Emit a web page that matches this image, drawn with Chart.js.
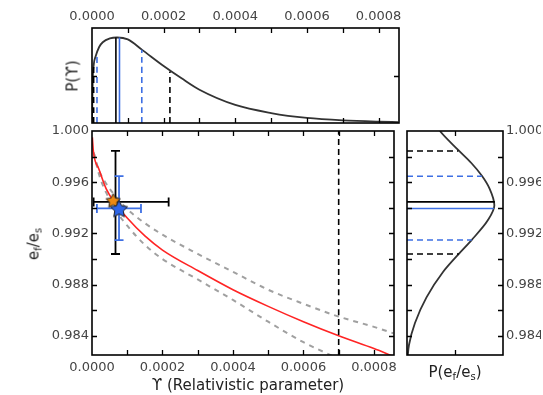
<!DOCTYPE html>
<html>
<head>
<meta charset="utf-8">
<script src="https://cdn.jsdelivr.net/npm/chart.js@4.4.1/dist/chart.umd.min.js"></script>
<style>
  body { margin: 0; background: #fff; width: 543px; height: 395px; position: relative; overflow: hidden; font-family: "DejaVu Sans", sans-serif; }
  canvas { position: absolute; }
  .lbl { position: absolute; font-size: 15px; color: #222; white-space: nowrap; line-height: 1; transform: translate(-50%, -50%); }
  .rot { transform: translate(-50%, -50%) rotate(-90deg); }
  .lbl sub { font-size: 10px; vertical-align: -3px; }
</style>
</head>
<body>
<canvas id="topChart" width="543" height="126" style="left:0;top:0"></canvas>
<canvas id="mainChart" width="403" height="277" style="left:0;top:118px"></canvas>
<canvas id="sideChart" width="138" height="277" style="left:403px;top:118px"></canvas>

<div class="lbl rot" style="left:73px;top:76px">P(ϒ)</div>
<div class="lbl rot" style="left:35px;top:244px">e<sub>f</sub>/e<sub>s</sub></div>
<div class="lbl" style="left:248px;top:385px">ϒ (Relativistic parameter)</div>
<div class="lbl" style="left:455px;top:373px">P(e<sub>f</sub>/e<sub>s</sub>)</div>

<script>
// axis ranges and ticks
const upsMax = 0.000857;
const ratioMin = 0.9825, ratioMax = 1.0;
const xTicks = [0, 0.0001, 0.0002, 0.0003, 0.0004, 0.0005, 0.0006, 0.0007, 0.0008];
const xLabelled = [0, 0.0002, 0.0004, 0.0006, 0.0008];
const yTicks = [0.984, 0.986, 0.988, 0.990, 0.992, 0.994, 0.996, 0.998, 1.000];
const yLabelled = [0.984, 0.988, 0.992, 0.996, 1.000];
const pTicks = [0, 0.5, 1];

// main panel: relation e_f/e_s vs upsilon, with band
const upsGrid  = [0.000001, 0.000004, 0.00002, 0.00004, 0.00007, 0.0001, 0.00015, 0.0002, 0.0003, 0.0004, 0.0005, 0.0006, 0.0007, 0.0008, 0.000855];
const ratioFit = [0.9995, 0.9984, 0.9970, 0.9955, 0.9942, 0.9932, 0.9918, 0.9907, 0.9891, 0.9876, 0.9863, 0.9851, 0.9840, 0.9830, 0.9824];
const upsBand    = [0.000005, 0.00002, 0.00004, 0.00007, 0.0001, 0.00015, 0.0002, 0.0003, 0.0004, 0.0005, 0.0006, 0.0007, 0.0008, 0.000855];
const ratioUpper = [0.9983, 0.9969, 0.9959, 0.9948, 0.9939, 0.9928, 0.9919, 0.9904, 0.9890, 0.9876, 0.9865, 0.9855, 0.9847, 0.9842];
const ratioLower = [0.9983, 0.9966, 0.9952, 0.9937, 0.9926, 0.9911, 0.9900, 0.9884, 0.9868, 0.9851, 0.9835, 0.9822];
const upsLimit = 0.0007;

// lo, mid, hi of the two estimates
const upsBlack   = [0.0000046, 0.0000667, 0.0002175];
const upsBlue    = [0.0000139, 0.0000767, 0.000139];
const ratioBlack = [0.99039, 0.99446, 0.99844];
const ratioBlue  = [0.99148, 0.99395, 0.99647];
const orangePt   = [0.000060, 0.99460];

// top panel: P(upsilon)
const upsCurve = [0, 0.000002, 0.000005, 0.00001, 0.00002, 0.00003, 0.00005, 0.00007, 0.0001, 0.00014, 0.0002, 0.00025, 0.0003, 0.0004, 0.0005, 0.0006, 0.0007, 0.0008, 0.000855];
const pUps     = [0, 0.45, 0.62, 0.70, 0.80, 0.85, 0.89, 0.90, 0.88, 0.77, 0.60, 0.47, 0.35, 0.19, 0.105, 0.053, 0.027, 0.014, 0.010];
const pUpsBlack = [0.61, 0.90, 0.543];
const pUpsBlue  = [0.737, 0.90, 0.772];

// side panel: P(e_f/e_s)
const ratioCurve = [0.9822, 0.9833, 0.9850, 0.9870, 0.9890, 0.9904, 0.9915, 0.9930, 0.9942, 0.9955, 0.9965, 0.9975, 0.9985, 1.0000, 1.0005];
const pRatio     = [0.005, 0.021, 0.083, 0.203, 0.377, 0.54, 0.675, 0.84, 0.91, 0.86, 0.78, 0.67, 0.535, 0.343, 0.30];
const pRatioBlack = [0.54, 0.915, 0.535];
const pRatioBlue  = [0.675, 0.905, 0.78];

const BLUE = '#3d6fe3';
const TICK = '#444';
const FONT = { family: 'DejaVu Sans', size: 13 };
const DASH = [6, 4];

const zip = (xs, ys) => ys.map((y, i) => ({ x: xs[i], y }));
const has = (arr, v) => arr.some(a => Math.abs(a - v) < 1e-9);

function makeStar(r, fill) {
  const c = document.createElement('canvas');
  c.width = c.height = Math.ceil(r * 2 + 4);
  const ctx = c.getContext('2d');
  const m = c.width / 2;
  ctx.beginPath();
  for (let i = 0; i < 10; i++) {
    const rad = i % 2 ? r * 0.5 : r;
    const a = -Math.PI / 2 + i * Math.PI / 5;
    ctx.lineTo(m + rad * Math.cos(a), m + 1 + rad * Math.sin(a));
  }
  ctx.closePath();
  ctx.fillStyle = fill; ctx.fill();
  ctx.lineWidth = 1; ctx.strokeStyle = '#222'; ctx.stroke();
  return c;
}

// box with inward ticks on all four sides, like the matplotlib original
const frame = {
  id: 'frame',
  afterDraw(chart) {
    const { ctx, chartArea: a, scales } = chart;
    ctx.save();
    ctx.strokeStyle = '#000';
    ctx.lineWidth = 1.3;
    ctx.beginPath();
    scales.x.ticks.forEach(t => {
      const px = Math.round(scales.x.getPixelForValue(t.value)) + 0.5;
      if (px < a.left + 2 || px > a.right - 2) return;
      ctx.moveTo(px, a.bottom); ctx.lineTo(px, a.bottom - 5);
      ctx.moveTo(px, a.top); ctx.lineTo(px, a.top + 5);
    });
    scales.y.ticks.forEach(t => {
      const py = Math.round(scales.y.getPixelForValue(t.value)) + 0.5;
      if (py < a.top + 2 || py > a.bottom - 2) return;
      ctx.moveTo(a.left, py); ctx.lineTo(a.left + 5, py);
      ctx.moveTo(a.right, py); ctx.lineTo(a.right - 5, py);
    });
    ctx.stroke();
    ctx.lineWidth = 1.6;
    ctx.strokeRect(a.left, a.top, a.right - a.left, a.bottom - a.top);
    ctx.restore();
  }
};

// Chart.js paints datasets from last to first; the error bars go in right
// after the limit line (index 2), before the two stars (indexes 1 and 0)
const errorBars = {
  id: 'errorBars',
  afterDatasetDraw(chart, args) {
    if (args.index !== 2) return;
    const { ctx, scales: { x, y } } = chart;
    [[upsBlack, ratioBlack, '#000'], [upsBlue, ratioBlue, BLUE]].forEach(([u, r, c]) => {
      const cx = x.getPixelForValue(u[1]), cy = y.getPixelForValue(r[1]);
      const x0 = x.getPixelForValue(u[0]), x1 = x.getPixelForValue(u[2]);
      const y0 = y.getPixelForValue(r[0]), y1 = y.getPixelForValue(r[2]);
      const cap = 4.5;
      ctx.save();
      ctx.strokeStyle = c; ctx.lineWidth = 1.8;
      ctx.beginPath();
      ctx.moveTo(x0, cy); ctx.lineTo(x1, cy);
      ctx.moveTo(cx, y0); ctx.lineTo(cx, y1);
      ctx.moveTo(x0, cy - cap); ctx.lineTo(x0, cy + cap);
      ctx.moveTo(x1, cy - cap); ctx.lineTo(x1, cy + cap);
      ctx.moveTo(cx - cap, y0); ctx.lineTo(cx + cap, y0);
      ctx.moveTo(cx - cap, y1); ctx.lineTo(cx + cap, y1);
      ctx.stroke();
      ctx.restore();
    });
  }
};

function axis(min, max, tickVals, opts) {
  return Object.assign({
    type: 'linear', min, max,
    afterBuildTicks: s => { s.ticks = tickVals.map(v => ({ value: v })); },
    grid: { display: false, drawTicks: false },
    border: { display: false },
  }, opts);
}

function tickOpts(show, labelled, digits, padding) {
  return {
    display: show, autoSkip: false, maxRotation: 0, padding, font: FONT, color: TICK,
    callback: v => has(labelled, v) ? v.toFixed(digits) : ''
  };
}

const base = {
  responsive: false, animation: false,
  plugins: { legend: { display: false }, tooltip: { enabled: false } },
  elements: { line: { fill: false } }
};

function line(data, color, width, dash, extra) {
  return Object.assign({ data, showLine: true, borderColor: color, borderWidth: width,
    borderDash: dash || [], pointRadius: 0, cubicInterpolationMode: 'monotone' }, extra);
}

function vline(xv, top, color, dash) {
  return line([{ x: xv, y: 0 }, { x: xv, y: top }], color, 1.6, dash);
}
function hline(yv, right, color, dash) {
  return line([{ x: 0, y: yv }, { x: right, y: yv }], color, 1.6, dash);
}

// top panel
new Chart(document.getElementById('topChart'), {
  type: 'scatter',
  data: { datasets: [
    vline(upsBlack[0], pUpsBlack[0], '#000', DASH),
    vline(upsBlack[2], pUpsBlack[2], '#000', DASH),
    vline(upsBlue[0], pUpsBlue[0], BLUE, DASH),
    vline(upsBlue[2], pUpsBlue[2], BLUE, DASH),
    vline(upsBlack[1], pUpsBlack[1], '#000'),
    vline(upsBlue[1], pUpsBlue[1], BLUE),
    line(zip(upsCurve, pUps), '#333', 1.8),
  ] },
  options: Object.assign({}, base, {
    layout: { padding: { left: 92, right: 144, top: 6, bottom: 3 } },
    scales: {
      x: axis(0, upsMax, xTicks, { position: 'top', afterFit: s => { s.height = 22; },
        ticks: tickOpts(true, xLabelled, 4, 4) }),
      y: axis(0, 1, pTicks, { afterFit: s => { s.width = 0; }, ticks: { display: false } })
    }
  }),
  plugins: [frame]
});

// main panel (first dataset is painted last, so it ends up on top)
new Chart(document.getElementById('mainChart'), {
  type: 'scatter',
  data: { datasets: [
    { data: [{ x: upsBlue[1], y: ratioBlue[1] }], pointStyle: makeStar(9, '#2f66e8'), pointRadius: 9, pointBorderWidth: 0 },
    { data: [{ x: orangePt[0], y: orangePt[1] }], pointStyle: makeStar(7.5, '#ee8a12'), pointRadius: 8, pointBorderWidth: 0 },
    line([{ x: upsLimit, y: ratioMin }, { x: upsLimit, y: ratioMax }], '#000', 1.6, DASH),
    line(zip(upsGrid, ratioFit), '#ff2424', 1.6),
    line(zip(upsBand, ratioLower), '#a0a0a0', 2, [5, 5]),
    line(zip(upsBand, ratioUpper), '#a0a0a0', 2, [5, 5]),
  ] },
  options: Object.assign({}, base, {
    layout: { padding: { left: 0, right: 4, top: 13, bottom: 0 } },
    scales: {
      x: axis(0, upsMax, xTicks, { afterFit: s => { s.height = 40; }, ticks: tickOpts(true, xLabelled, 4, 5) }),
      y: axis(ratioMin, ratioMax, yTicks, { afterFit: s => { s.width = 92; }, ticks: tickOpts(true, yLabelled, 3, 3) })
    }
  }),
  plugins: [frame, errorBars]
});

// side panel
new Chart(document.getElementById('sideChart'), {
  type: 'scatter',
  data: { datasets: [
    hline(ratioBlack[0], pRatioBlack[0], '#000', DASH),
    hline(ratioBlack[2], pRatioBlack[2], '#000', DASH),
    hline(ratioBlue[0], pRatioBlue[0], BLUE, DASH),
    hline(ratioBlue[2], pRatioBlue[2], BLUE, DASH),
    hline(ratioBlack[1], pRatioBlack[1], '#000'),
    hline(ratioBlue[1], pRatioBlue[1], BLUE),
    line(zip(pRatio, ratioCurve), '#333', 1.8, null, { indexAxis: 'y' }),
  ] },
  options: Object.assign({}, base, {
    layout: { padding: { left: 4, right: 0, top: 13, bottom: 0 } },
    scales: {
      x: axis(0, 1, pTicks, { afterFit: s => { s.height = 40; }, ticks: { display: false } }),
      y: axis(ratioMin, ratioMax, yTicks, { position: 'right', afterFit: s => { s.width = 38; },
        ticks: tickOpts(true, yLabelled, 3, 3) })
    }
  }),
  plugins: [frame]
});
</script>
</body>
</html>
